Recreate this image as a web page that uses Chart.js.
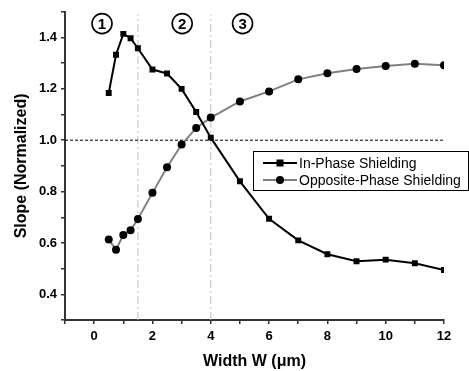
<!DOCTYPE html>
<html lang="en">
<head>
<meta charset="utf-8">
<title>Slope vs Width</title>
<style>
  body { margin: 0; background: #fff; }
</style>
</head>
<body>
<canvas id="myChart" width="469" height="371"></canvas>

<script src="https://cdn.jsdelivr.net/npm/chart.js"></script>
<script>
// data
const widths = [0.5, 0.75, 1, 1.25, 1.5, 2, 2.5, 3, 3.5, 4, 5, 6, 7, 8, 9, 10, 11, 12];
const inPhase = [1.184, 1.333, 1.414, 1.397, 1.358, 1.275, 1.26, 1.20, 1.11, 1.01, 0.84, 0.694, 0.61, 0.556, 0.529, 0.535, 0.521, 0.495];
const oppPhase = [0.613, 0.574, 0.631, 0.649, 0.693, 0.795, 0.895, 0.983, 1.048, 1.088, 1.151, 1.19, 1.237, 1.261, 1.277, 1.289, 1.298, 1.292];
const seriesNames = ['In-Phase Shielding', 'Opposite-Phase Shielding'];
const regionBounds = [1.5, 4];
const refLevel = 1.0;
const regionLabels = ['1', '2', '3'];
const regionLabelX = [0.27, 3.02, 5.09];
const regionLabelY = 1.454;
const xLabelTicks = [0, 2, 4, 6, 8, 10, 12];
const yLabelTicks = [0.4, 0.6, 0.8, 1.0, 1.2, 1.4];

const FONT = 'Arial, "Liberation Sans", sans-serif';

function pts(xs, ys) {
    return xs.map((x, i) => ({ x: x, y: ys[i] }));
}

// circled region numbers + legend box
const extras = {
    id: 'extras',
    afterDatasetsDraw(chart) {
        const ctx = chart.ctx;
        const xs = chart.scales.x, ys = chart.scales.y;
        ctx.save();
        // circled numbers
        for (let i = 0; i < regionLabels.length; i++) {
            const px = xs.getPixelForValue(regionLabelX[i]);
            const py = ys.getPixelForValue(regionLabelY);
            ctx.beginPath();
            ctx.arc(px, py, 10, 0, Math.PI * 2);
            ctx.lineWidth = 1.6;
            ctx.strokeStyle = '#000';
            ctx.stroke();
            ctx.fillStyle = '#000';
            ctx.font = 'bold 15px ' + FONT;
            ctx.textAlign = 'center';
            ctx.textBaseline = 'middle';
            ctx.fillText(regionLabels[i], px, py + 1);
        }
        // legend
        const lx = 253, ly = 151, lw = 215, lh = 39;
        ctx.fillStyle = '#fff';
        ctx.fillRect(lx, ly, lw, lh);
        ctx.lineWidth = 1;
        ctx.strokeStyle = '#000';
        ctx.strokeRect(lx + 0.5, ly + 0.5, lw, lh);
        const rows = [ly + 12, ly + 29];
        const lineCols = ['#000', '#808080'];
        ctx.font = '14px ' + FONT;
        ctx.textAlign = 'left';
        ctx.textBaseline = 'middle';
        for (let i = 0; i < 2; i++) {
            ctx.beginPath();
            ctx.moveTo(263, rows[i]);
            ctx.lineTo(297, rows[i]);
            ctx.lineWidth = 2;
            ctx.strokeStyle = lineCols[i];
            ctx.stroke();
            ctx.fillStyle = '#000';
            if (i === 0) {
                ctx.fillRect(276.5, rows[i] - 3.5, 7, 7);
            } else {
                ctx.beginPath();
                ctx.arc(280, rows[i], 4, 0, Math.PI * 2);
                ctx.fill();
            }
            ctx.fillText(seriesNames[i], 299, rows[i] + 1);
        }
        ctx.restore();
    }
};

const ctx = document.getElementById('myChart');

new Chart(ctx, {
    type: 'line',
    data: {
        datasets: [
            {
                label: seriesNames[0],
                data: pts(widths, inPhase),
                borderColor: '#000',
                backgroundColor: '#000',
                borderWidth: 2,
                pointStyle: 'rect',
                pointRadius: 4.2,
                pointBorderWidth: 0,
                tension: 0
            },
            {
                label: seriesNames[1],
                data: pts(widths, oppPhase),
                borderColor: '#808080',
                backgroundColor: '#000',
                pointBackgroundColor: '#000',
                borderWidth: 2,
                pointStyle: 'circle',
                pointRadius: 4,
                pointBorderWidth: 0,
                tension: 0
            },
            {
                label: 'ref',
                data: [{ x: -1, y: refLevel }, { x: 12, y: refLevel }],
                borderColor: '#000',
                borderWidth: 1,
                borderDash: [3, 2],
                pointRadius: 0
            },
            {
                label: 'b1',
                data: [{ x: regionBounds[0], y: 0.3 }, { x: regionBounds[0], y: 1.49 }],
                borderColor: '#c0c0c0',
                borderWidth: 1,
                borderDash: [8, 3, 2, 3],
                pointRadius: 0
            },
            {
                label: 'b2',
                data: [{ x: regionBounds[1], y: 0.3 }, { x: regionBounds[1], y: 1.49 }],
                borderColor: '#c0c0c0',
                borderWidth: 1,
                borderDash: [8, 3, 2, 3],
                pointRadius: 0
            }
        ]
    },
    options: {
        responsive: false,
        animation: false,
        layout: { padding: { top: 10, right: 25, left: 0, bottom: 0 } },
        plugins: {
            legend: { display: false },
            tooltip: { enabled: false }
        },
        scales: {
            x: {
                type: 'linear',
                min: -1,
                max: 12,
                ticks: {
                    stepSize: 1,
                    color: '#000',
                    padding: 5,
                    maxRotation: 0,
                    autoSkip: false,
                    font: { family: FONT, size: 13, weight: 'bold' },
                    callback: v => xLabelTicks.includes(v) ? String(v) : ''
                },
                grid: { drawOnChartArea: false, drawTicks: true, tickLength: 4, color: '#333', lineWidth: 1.5 },
                border: { color: '#333', width: 2 },
                title: {
                    display: true,
                    text: 'Width W (\u03bcm)',
                    color: '#000',
                    padding: { top: 0, bottom: 0 },
                    font: { family: FONT, size: 16, weight: 'bold' }
                },
                afterFit: s => { s.height = 51; }
            },
            y: {
                min: 0.3,
                max: 1.5,
                ticks: {
                    stepSize: 0.1,
                    color: '#000',
                    padding: 4,
                    autoSkip: false,
                    font: { family: FONT, size: 13, weight: 'bold' },
                    callback: v => {
                        const r = Math.round(v * 10) / 10;
                        return yLabelTicks.includes(r) ? r.toFixed(1) : '';
                    }
                },
                grid: { drawOnChartArea: false, drawTicks: true, tickLength: 4, color: '#333', lineWidth: 1.5 },
                border: { color: '#333', width: 2 },
                title: {
                    display: true,
                    text: 'Slope (Normalized)',
                    color: '#000',
                    padding: { top: 12, bottom: 0 },
                    font: { family: FONT, size: 16, weight: 'bold' }
                },
                afterFit: s => { s.width = 65; }
            }
        }
    },
    plugins: [extras]
});
</script>
</body>
</html>
